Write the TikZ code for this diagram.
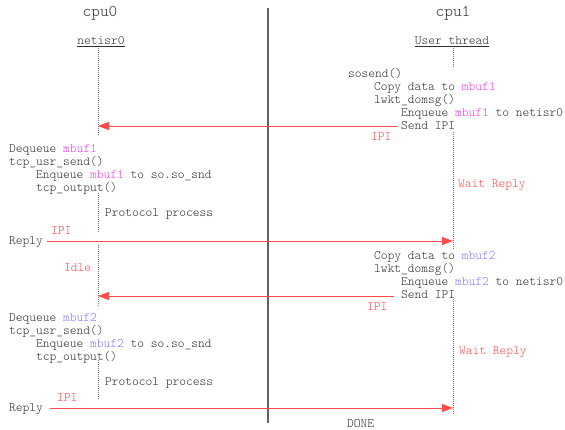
\documentclass[tikz,border=0pt]{standalone}
\usepackage{fontspec}
\newfontfamily\mono{Latin Modern Mono Light}
\usetikzlibrary{arrows.meta}
\definecolor{ink}{HTML}{303030}
\definecolor{ipired}{HTML}{FF4A4A}
\definecolor{bufone}{HTML}{F23CF2}
\definecolor{buftwo}{HTML}{7C7CFF}
\definecolor{divider}{HTML}{606060}
\definecolor{lifegray}{HTML}{808080}
\newcommand{\mbufA}{\textcolor{bufone}{mbuf1}}
\newcommand{\mbufB}{\textcolor{buftwo}{mbuf2}}
\tikzset{
  txt/.style={font=\mono\fontsize{12.85}{13}\selectfont, text=ink, inner sep=0, anchor=base west},
  note/.style={txt, text=ipired},
  head/.style={font=\mono\fontsize{16.5}{18}\selectfont, text=ink, inner sep=0, anchor=base},
  lifeline/.style={draw=lifegray, line width=0.8pt, dash pattern=on 1pt off 1pt},
  msg/.style={draw=ipired, line width=0.9pt, -{Triangle[length=11pt,width=8pt]}},
}
\begin{document}
\begin{tikzpicture}[x=1pt, y=-1pt]
  \useasboundingbox (0,0) rectangle (565,429);

  % CPU split
  \coordinate (divtop) at (268,8);
  \coordinate (divbot) at (268,423);
  \draw[divider, line width=1.1pt] (divtop) -- (divbot);

  % headings
  \node[head] (cpu0) at (100,16) {cpu0};
  \node[head] (cpu1) at (453,16) {cpu1};
  \node[txt, anchor=base] (netisr) at (101,44.5) {\underline{netisr0}};
  \node[txt, anchor=base] (user) at (452,44.5) {\underline{User thread}};

  % lifeline coordinates
  \coordinate (n1a) at (98,48);   \coordinate (n1b) at (98,136);
  \coordinate (n2a) at (98,193);  \coordinate (n2b) at (98,233);
  \coordinate (n3a) at (98,245);  \coordinate (n3b) at (98,306);
  \coordinate (n4a) at (98,360);  \coordinate (n4b) at (98,400);
  \coordinate (u1a) at (453,48);  \coordinate (u1b) at (453,68);
  \coordinate (u2a) at (453,132); \coordinate (u2b) at (453,249);
  \coordinate (u3a) at (453,299); \coordinate (u3b) at (453,415);
  \foreach \a/\b in {n1a/n1b,n2a/n2b,n3a/n3b,n4a/n4b,u1a/u1b,u2a/u2b,u3a/u3b}
    \draw[lifeline] (\a) -- (\b);

  % cpu1: first send
  \node[txt] (sosend) at (348,77) {sosend()};
  \node[txt] (copyA) at (374,90.5) {Copy data to \mbufA};
  \node[txt] (domsgA) at (374,103.5) {lwkt\_domsg()};
  \node[txt] (enqA) at (401,116.5) {Enqueue \mbufA{} to netisr0};
  \node[txt] (sendA) at (401,129.5) {Send IPI};
  \node[note] (ipiA) at (371,140.5) {IPI};
  \node[note] (waitA) at (458,187.5) {Wait Reply};

  % cpu0: first processing
  \node[txt] (deqA) at (9,152.5) {Dequeue \mbufA};
  \node[txt] (usrA) at (9,165.5) {tcp\_usr\_send()};
  \node[txt] (sndA) at (36,178.5) {Enqueue \mbufA{} to so.so\_snd};
  \node[txt] (outA) at (36,191.5) {tcp\_output()};
  \node[txt] (protoA) at (105,216.5) {Protocol process};
  \node[note] (ipiB) at (51,234.5) {IPI};
  \node[txt] (replyA) at (9,244) {Reply};
  \node[note] (idle) at (64,271.5) {Idle};

  % cpu1: second send
  \node[txt] (copyB) at (374,259) {Copy data to \mbufB};
  \node[txt] (domsgB) at (374,272) {lwkt\_domsg()};
  \node[txt] (enqB) at (401,285) {Enqueue \mbufB{} to netisr0};
  \node[txt] (sendB) at (401,298.5) {Send IPI};
  \node[note] (ipiC) at (367,310.5) {IPI};
  \node[note] (waitB) at (459,354.5) {Wait Reply};

  % cpu0: second processing
  \node[txt] (deqB) at (9,321) {Dequeue \mbufB};
  \node[txt] (usrB) at (9,334.5) {tcp\_usr\_send()};
  \node[txt] (sndB) at (36,347) {Enqueue \mbufB{} to so.so\_snd};
  \node[txt] (outB) at (36,360.5) {tcp\_output()};
  \node[txt] (protoB) at (105,385.5) {Protocol process};
  \node[note] (ipiD) at (57,401.5) {IPI};
  \node[txt] (replyB) at (9,411.5) {Reply};
  \node[txt] (done) at (347,427.5) {DONE};

  % messages
  \coordinate (m1s) at (397,126); \coordinate (m1e) at (98,126);
  \coordinate (m2s) at (47,241);  \coordinate (m2e) at (453,241);
  \coordinate (m3s) at (394,296); \coordinate (m3e) at (98,296);
  \coordinate (m4s) at (50,408);  \coordinate (m4e) at (453,408);
  \draw[msg] (m1s) -- (m1e);
  \draw[msg] (m2s) -- (m2e);
  \draw[msg] (m3s) -- (m3e);
  \draw[msg] (m4s) -- (m4e);
\end{tikzpicture}
\end{document}
